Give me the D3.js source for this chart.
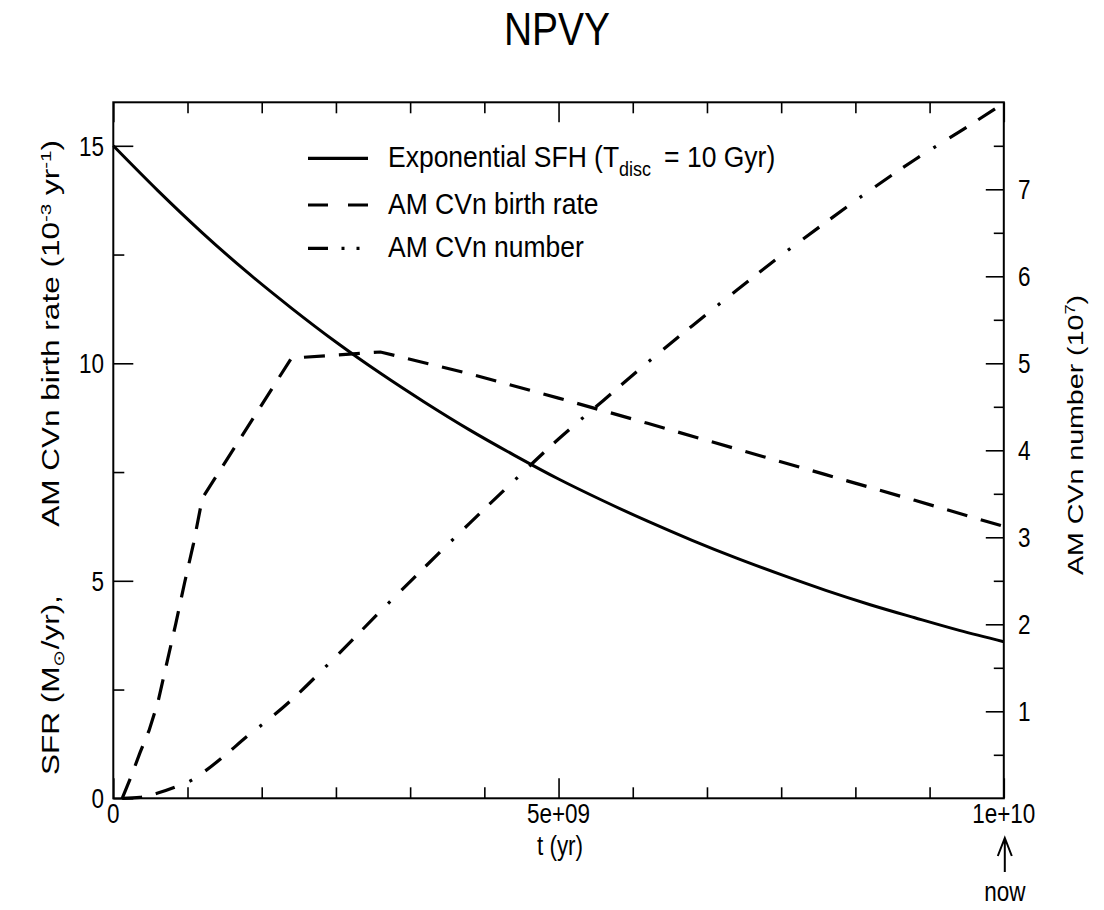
<!DOCTYPE html>
<html><head><meta charset="utf-8">
<script src="https://cdn.jsdelivr.net/npm/d3@7"></script>
<style>
body{margin:0;background:#fff}
text{font-family:"Liberation Sans",Arial,Helvetica,sans-serif;fill:#000}
</style>
</head><body>
<svg id="c" width="1104" height="910"></svg>
<script>
// ---- data (time in years) ----
const sfhTime = [0,0.5e9,1e9,1.5e9,2e9,2.5e9,3e9,3.5e9,4e9,4.5e9,5e9,5.5e9,6e9,6.5e9,7e9,7.5e9,8e9,8.5e9,9e9,9.5e9,1e10];
const sfhValues = [15.0,13.97,13.0,12.10,11.27,10.49,9.77,9.10,8.47,7.89,7.34,6.84,6.37,5.93,5.52,5.14,4.78,4.45,4.15,3.86,3.60];

const birthTime = [0.1e9,0.2e9,0.3e9,0.4e9,0.5e9,0.6e9,0.7e9,0.8e9,0.9e9,1e9,2e9,2.5e9,3e9,4e9,5e9,6e9,7e9,8e9,9e9,1e10];
const birthValues = [0,0.5,1.05,1.55,2.2,3.1,4.0,4.95,5.85,6.9,10.12,10.19,10.26,9.76,9.2,8.62,8.03,7.44,6.85,6.25];

const numberTime = [0.1e9,0.3e9,0.5e9,0.7e9,0.9e9,1e9,1.25e9,1.5e9,1.75e9,2e9,2.5e9,3e9,3.5e9,4e9,4.5e9,5e9,5.5e9,6e9,6.5e9,7e9,7.5e9,8e9,8.5e9,9e9,9.5e9,1e10];
const numberValues = [0,0.01,0.06,0.13,0.22,0.29,0.49,0.71,0.91,1.13,1.63,2.15,2.66,3.16,3.65,4.13,4.57,5.01,5.43,5.84,6.24,6.62,6.99,7.34,7.66,7.99];

const xTickValues = [0,5e9,1e10];
const xTickLabels = ["0","5e+09","1e+10"];
const leftTickValues = [0,5,10,15];
const leftMinorValues = [2.5,7.5,12.5];
const rightTickValues = [1,2,3,4,5,6,7];
const rightMinorValues = [0.5,1.5,2.5,3.5,4.5,5.5,6.5,7.5];

const title = "NPVY";
const legendNames = ["Exponential SFH (T", "AM CVn birth rate", "AM CVn number"];

// ---- layout ----
const L = 113.3, R = 1003.8, T = 102.3, B = 798.3;
const svg = d3.select("#c");
const x = d3.scaleLinear().domain([0,1e10]).range([L,R]);
const yL = d3.scaleLinear().domain([0,16]).range([B,T]);
const yR = d3.scaleLinear().domain([0,8]).range([B,T]);
const xMinor = d3.range(1,12).filter(i=>i!==6).map(i=>i*1e10/12);

const KY = 1.25; // vertical stretch of glyphs in the reference

function stretchedText(g, xx, yy, k, rot){
  return g.append("text").attr("transform",`translate(${xx},${yy}) scale(1,${k})`+(rot?` rotate(${rot})`:""));
}

// ---- axes ----
function styleAxis(g){
  g.select(".domain").remove();
  g.selectAll(".tick line").attr("stroke","#000").attr("stroke-width",1.6);
  g.selectAll(".tick text").remove();
}
svg.append("g").attr("transform",`translate(0,${B})`)
  .call(d3.axisBottom(x).tickValues(xTickValues).tickSize(-20)).call(styleAxis);
svg.append("g").attr("transform",`translate(0,${B})`)
  .call(d3.axisBottom(x).tickValues(xMinor).tickSize(-11)).call(styleAxis);
svg.append("g").attr("transform",`translate(0,${T})`)
  .call(d3.axisTop(x).tickValues(xTickValues).tickSize(-20)).call(styleAxis);
svg.append("g").attr("transform",`translate(0,${T})`)
  .call(d3.axisTop(x).tickValues(xMinor).tickSize(-11)).call(styleAxis);
svg.append("g").attr("transform",`translate(${L},0)`)
  .call(d3.axisLeft(yL).tickValues(leftTickValues).tickSize(-20)).call(styleAxis);
svg.append("g").attr("transform",`translate(${L},0)`)
  .call(d3.axisLeft(yL).tickValues(leftMinorValues).tickSize(-11)).call(styleAxis);
svg.append("g").attr("transform",`translate(${R},0)`)
  .call(d3.axisRight(yR).tickValues(rightTickValues).tickSize(-18)).call(styleAxis);
svg.append("g").attr("transform",`translate(${R},0)`)
  .call(d3.axisRight(yR).tickValues(rightMinorValues).tickSize(-10)).call(styleAxis);

svg.append("rect").attr("x",L).attr("y",T).attr("width",R-L).attr("height",B-T)
  .attr("fill","none").attr("stroke","#000").attr("stroke-width",2);

// tick labels
const tickFs = 22.5;
xTickValues.forEach((v,i)=>{
  stretchedText(svg, x(v), 823, KY).attr("text-anchor","middle").attr("font-size",tickFs).text(xTickLabels[i]);
});
leftTickValues.forEach(v=>{
  stretchedText(svg, 104, yL(v)+10, KY).attr("text-anchor","end").attr("font-size",tickFs).text(d3.format("d")(v));
});
rightTickValues.forEach(v=>{
  stretchedText(svg, 1018, yR(v)+10, KY).attr("text-anchor","start").attr("font-size",tickFs).text(d3.format("d")(v));
});

// ---- lines ----
const lineL = (ts,vs,curve)=> d3.line().x((d,i)=>x(ts[i])).y(d=>yL(d)).curve(curve)(vs);
const lineR = (ts,vs,curve)=> d3.line().x((d,i)=>x(ts[i])).y(d=>yR(d)).curve(curve)(vs);

svg.append("path").attr("d",lineL(sfhTime,sfhValues,d3.curveMonotoneX))
  .attr("fill","none").attr("stroke","#000").attr("stroke-width",3);
svg.append("path").attr("d",lineL(birthTime,birthValues,d3.curveLinear))
  .attr("fill","none").attr("stroke","#000").attr("stroke-width",3.2)
  .attr("stroke-dasharray","21,14");
svg.append("path").attr("d",lineR(numberTime,numberValues,d3.curveMonotoneX))
  .attr("fill","none").attr("stroke","#000").attr("stroke-width",3.2)
  .attr("stroke-dasharray","20,14,20,16,3,16");

// ---- legend ----
const legY = [158.3,205,248.3];
const legDash = [null,"20,20","20,13.5,3,12,3,20"];
legY.forEach((ly,i)=>{
  const p = svg.append("line").attr("x1",308).attr("x2",368).attr("y1",ly).attr("y2",ly)
    .attr("stroke","#000").attr("stroke-width",3.2);
  if(legDash[i]) p.attr("stroke-dasharray",legDash[i]);
});
const legFs = 26.5, legK = 1.1;
const t0 = stretchedText(svg, 388, legY[0]+8.5, legK).attr("font-size",legFs);
t0.append("tspan").text(legendNames[0]);
t0.append("tspan").attr("font-size",18).attr("dy",8).text("disc");
t0.append("tspan").attr("dy",-8).attr("dx",13).text("= 10 Gyr)");
stretchedText(svg, 388, legY[1]+8.5, legK).attr("font-size",legFs).text(legendNames[1]);
stretchedText(svg, 388, legY[2]+8.5, legK).attr("font-size",legFs).text(legendNames[2]);

// ---- title ----
stretchedText(svg, 557, 45, 1.2).attr("text-anchor","middle").attr("font-size",39).text(title);

// ---- axis labels ----
stretchedText(svg, 560, 855, KY).attr("text-anchor","middle").attr("font-size",22.5).text("t (yr)");

const ylab1 = stretchedText(svg, 59, 775, 1.37, -90).attr("font-size",23).attr("text-anchor","start");
ylab1.append("tspan").text("SFR (M");
ylab1.append("tspan").attr("font-size",15).attr("dy",5).text("\u2299");
ylab1.append("tspan").attr("dy",-5).text("/yr),");

const ylab2 = stretchedText(svg, 59, 140, 1.37, -90).attr("font-size",23).attr("text-anchor","end");
ylab2.append("tspan").text("AM CVn birth rate (10");
ylab2.append("tspan").attr("font-size",15).attr("dy",-8).text("-3");
ylab2.append("tspan").attr("dy",8).text(" yr");
ylab2.append("tspan").attr("font-size",15).attr("dy",-8).text("-1");
ylab2.append("tspan").attr("dy",8).text(")");

const ylab3 = stretchedText(svg, 1083, 435, 1.3, -90).attr("font-size",22).attr("text-anchor","middle");
ylab3.append("tspan").text("AM CVn number (10");
ylab3.append("tspan").attr("font-size",14).attr("dy",-8).text("7");
ylab3.append("tspan").attr("dy",8).text(")");

// ---- "now" arrow ----
const ax = x(1e10)+1;
svg.append("path").attr("d",`M${ax},872 L${ax},838 M${ax-7},856 L${ax},838 L${ax+7},856`)
  .attr("fill","none").attr("stroke","#000").attr("stroke-width",2);
stretchedText(svg, ax, 901, KY).attr("text-anchor","middle").attr("font-size",22.5).text("now");
</script>
</body></html>
